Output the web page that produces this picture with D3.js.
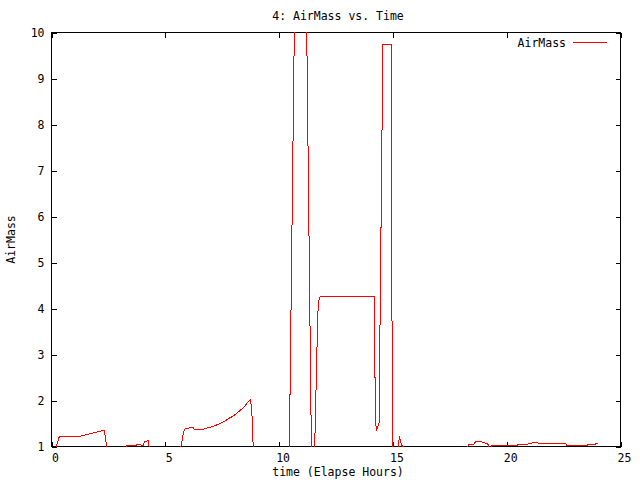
<!DOCTYPE html>
<html>
<head>
<meta charset="utf-8">
<script src="https://cdn.jsdelivr.net/npm/d3@7"></script>
<style>
  html, body { margin: 0; padding: 0; background: #fff; }
  svg { display: block; }
  text { font-family: "DejaVu Sans Mono", "Liberation Mono", monospace; font-size: 11.5px; fill: #000; }
</style>
</head>
<body>
<svg id="chart" width="640" height="480"></svg>
<script>
// ---- data ----
const chartTitle = "4: AirMass vs. Time";
const xLabel = "time (Elapse Hours)";
const yLabel = "AirMass";
const seriesName = "AirMass";
const xTicks = [0, 5, 10, 15, 20, 25];
const yTicks = [1, 2, 3, 4, 5, 6, 7, 8, 9, 10];
// elapsed hours
const times = [
  0.03, 0.34, 0.94, 1.34, 1.70, 1.89, 2.11, 2.32, 2.45,
  3.28, 3.29, 3.73, 3.75, 3.93, 4.02, 4.09, 4.20, 4.24, 4.33,
  5.655, 5.80, 5.85, 6.03, 6.20, 6.31, 6.51, 6.69, 6.91, 7.13, 7.35, 7.57, 7.79, 8.01, 8.23, 8.45, 8.57, 8.74, 8.80, 8.87,
  10.45, 10.68, 10.90, 11.00, 11.21, 11.42, 11.56, 11.70, 11.76, 11.80, 14.17,
  14.24, 14.29, 14.33, 14.39, 14.56, 14.92, 14.98,
  15.22, 15.29, 15.33, 15.39, 15.46, 15.50,
  18.20, 18.34, 18.55, 18.65, 18.83, 19.00, 19.12, 19.20, 19.25,
  19.33, 19.35, 20.45, 20.46, 20.92, 20.96, 21.19, 21.32, 21.41, 21.57, 21.60, 22.60, 22.64, 23.52, 23.55, 23.84, 23.92, 23.99
];
// airmass (values below 1 = below range, above 10 = off the top)
const airmass = [
  0.70, 1.21, 1.21, 1.23, 1.28, 1.30, 1.33, 1.35, 0.90,
  0.90, 1.02, 1.02, 1.037, 1.037, 1.015, 1.115, 1.115, 1.137, 0.90,
  0.90, 1.31, 1.38, 1.40, 1.42, 1.36, 1.36, 1.38, 1.41, 1.44, 1.49, 1.54, 1.61, 1.67, 1.76, 1.85, 1.93, 2.02, 1.78, 0.90,
  0.90, 10.5, 20.0, 20.0, 10.2, 0.90, 0.90, 3.90, 4.22, 4.26, 4.26,
  1.49, 1.37, 1.42, 1.50, 9.73, 9.73, 0.90,
  0.95, 1.22, 1.12, 1.02, 1.00, 0.90,
  0.95, 1.04, 1.045, 1.115, 1.11, 1.08, 1.07, 1.04, 0.95,
  0.95, 1.015, 1.015, 1.037, 1.043, 1.065, 1.08, 1.093, 1.06, 1.06, 1.065, 1.065, 1.02, 1.02, 1.037, 1.037, 1.06, 1.06
];

// ---- chart ----
const svg = d3.select("#chart");
const pLeft = 51.5, pRight = 620.5, pTop = 32.5, pBottom = 446.5;

const x = d3.scaleLinear().domain([0, 25]).range([pLeft, pRight]);
const y = d3.scaleLinear().domain([1, 10]).range([pBottom, pTop]);

svg.append("defs").append("clipPath").attr("id", "plotclip")
  .append("rect").attr("x", pLeft - 0.5).attr("y", pTop - 0.5)
  .attr("width", pRight - pLeft + 1).attr("height", pBottom - pTop + 1);

// axes with inward ticks (and mirrored ticks)
const gx = svg.append("g").attr("transform", `translate(0,${pBottom})`)
  .call(d3.axisBottom(x).tickValues(xTicks).tickSizeInner(-5).tickSizeOuter(0).tickPadding(7).tickFormat(d3.format("d")));
const gxTop = svg.append("g").attr("transform", `translate(0,${pTop})`)
  .call(d3.axisTop(x).tickValues(xTicks).tickSizeInner(-5).tickSizeOuter(0).tickFormat(""));
const gy = svg.append("g").attr("transform", `translate(${pLeft},0)`)
  .call(d3.axisLeft(y).tickValues(yTicks).tickSizeInner(-5).tickSizeOuter(0).tickPadding(8).tickFormat(d3.format("d")));
const gyRight = svg.append("g").attr("transform", `translate(${pRight},0)`)
  .call(d3.axisRight(y).tickValues(yTicks).tickSizeInner(-5).tickSizeOuter(0).tickFormat(""));

[gx, gxTop, gy, gyRight].forEach(g => {
  g.select(".domain").remove();
  g.selectAll("line").attr("stroke", "#000").attr("shape-rendering", "crispEdges");
  g.selectAll("text").attr("font-family", null).attr("font-size", null).style("font-family", "DejaVu Sans Mono").style("font-size", "11.5px");
});
gy.selectAll("text").attr("x", -7);
gx.selectAll("text").attr("x", 3.5);

// frame
svg.append("rect")
  .attr("x", pLeft).attr("y", pTop)
  .attr("width", pRight - pLeft).attr("height", pBottom - pTop)
  .attr("fill", "none").attr("stroke", "#000").attr("stroke-width", 1)
  .attr("shape-rendering", "crispEdges");

// data line
const pts = times.map((t, i) => [t, airmass[i]]);
const line = d3.line().x(d => x(d[0])).y(d => y(d[1]));
svg.append("g").attr("clip-path", "url(#plotclip)")
  .append("path")
  .datum(pts)
  .attr("d", line)
  .attr("fill", "none")
  .attr("stroke", "#ff0000")
  .attr("stroke-width", 1)
  .attr("shape-rendering", "crispEdges");

// title and axis labels
svg.append("text").attr("x", (pLeft + pRight) / 2 + 2).attr("y", 20)
  .attr("text-anchor", "middle").text(chartTitle);
svg.append("text").attr("x", (pLeft + pRight) / 2 + 2).attr("y", 476)
  .attr("text-anchor", "middle").text(xLabel);
svg.append("text").attr("transform", `translate(15,${(pTop + pBottom) / 2}) rotate(-90)`)
  .attr("text-anchor", "middle").text(yLabel);

// legend
svg.append("text").attr("x", 566).attr("y", 47)
  .attr("text-anchor", "end").text(seriesName);
svg.append("line")
  .attr("x1", 573).attr("x2", 607).attr("y1", 42.5).attr("y2", 42.5)
  .attr("stroke", "#ff0000").attr("stroke-width", 1)
  .attr("shape-rendering", "crispEdges");
</script>
</body>
</html>
